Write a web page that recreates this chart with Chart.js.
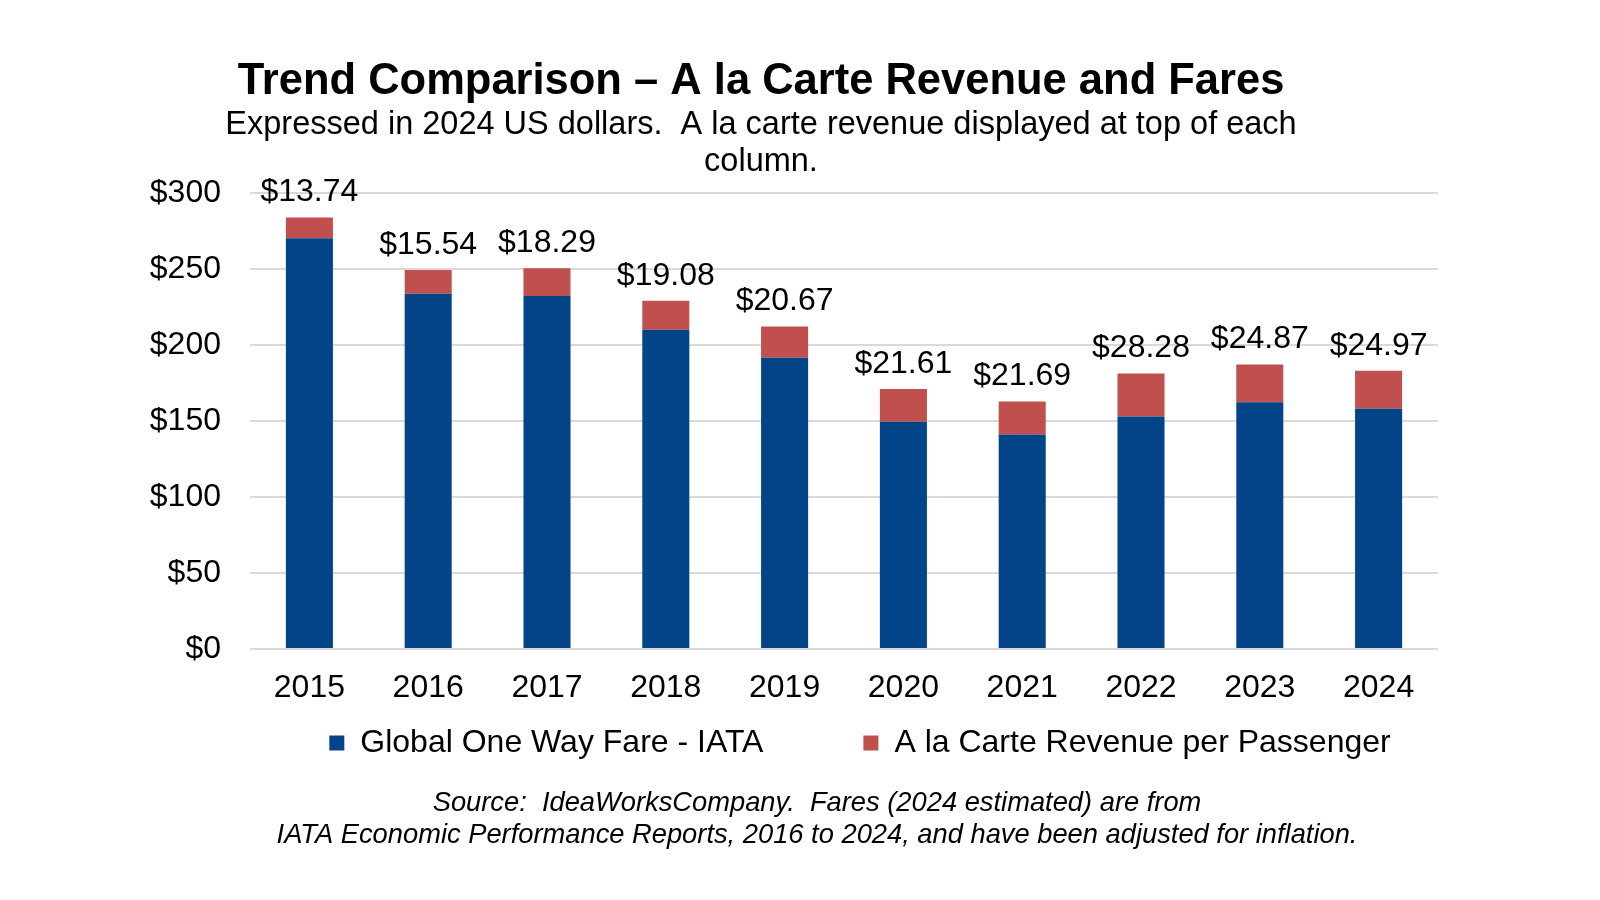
<!DOCTYPE html>
<html>
<head>
<meta charset="utf-8">
<title>Trend Comparison – A la Carte Revenue and Fares</title>
<script src="https://cdn.jsdelivr.net/npm/chart.js@4.4.1/dist/chart.umd.min.js"></script>
<style>
    body { margin: 0; background: #ffffff; }
    #wrap { position: absolute; left: 0; top: 0; width: 1522px; height: 900px; }
</style>
</head>
<body>
<div id="wrap"><canvas id="chartTrend"></canvas></div>
<script>
const years = ['2015', '2016', '2017', '2018', '2019', '2020', '2021', '2022', '2023', '2024'];
const fareIata = [270.5, 234, 232.5, 210.3, 191.8, 149.6, 141.3, 153.2, 162.5, 158.2];
const aLaCarte = [13.74, 15.54, 18.29, 19.08, 20.67, 21.61, 21.69, 28.28, 24.87, 24.97];
const yTicks = [0, 50, 100, 150, 200, 250, 300];

const FONT = "'Liberation Sans', Arial, sans-serif";

// valores de a la carte no topo de cada coluna
const topLabels = {
    id: 'topLabels',
    afterDatasetsDraw(chart) {
        const ctx = chart.ctx;
        const meta = chart.getDatasetMeta(1);
        ctx.save();
        ctx.font = '32px ' + FONT;
        ctx.fillStyle = '#000000';
        ctx.textAlign = 'center';
        ctx.textBaseline = 'middle';
        meta.data.forEach((bar, i) => {
            ctx.fillText('$' + aLaCarte[i].toFixed(2), bar.x, bar.y - 25);
        });
        ctx.restore();
    }
};

// nota de rodapé
const sourceNote = {
    id: 'sourceNote',
    afterDraw(chart) {
        const ctx = chart.ctx;
        ctx.save();
        ctx.font = 'italic 27.3px ' + FONT;
        ctx.fillStyle = '#000000';
        ctx.textAlign = 'center';
        ctx.textBaseline = 'middle';
        ctx.fillText('Source:  IdeaWorksCompany.  Fares (2024 estimated) are from', 817, 803);
        ctx.fillText('IATA Economic Performance Reports, 2016 to 2024, and have been adjusted for inflation.', 817, 835);
        ctx.restore();
    }
};

// empurra a legenda um pouco para a direita
const legendShift = {
    id: 'legendShift',
    afterLayout(chart) {
        chart.legend.left += 16;
        chart.legend.right += 16;
    }
};

function makeChart() {
    const ctx = document.getElementById('chartTrend').getContext('2d');
    new Chart(ctx, {
        type: 'bar',
        data: {
            labels: years,
            datasets: [{
                label: 'Global One Way Fare - IATA',
                data: fareIata,
                backgroundColor: '#024487',
                barPercentage: 0.396,
                categoryPercentage: 1
            }, {
                label: 'A la Carte Revenue per Passenger',
                data: aLaCarte,
                backgroundColor: '#C0504D',
                barPercentage: 0.396,
                categoryPercentage: 1
            }]
        },
        options: {
            responsive: true,
            maintainAspectRatio: false,
            animation: false,
            layout: { padding: { top: 0, left: 84, right: 84, bottom: 131 } },
            scales: {
                x: {
                    stacked: true,
                    grid: { display: false, drawTicks: false },
                    border: { display: false },
                    ticks: { color: '#000000', font: { family: FONT, size: 32 }, padding: 20 },
                    afterFit: (scale) => { scale.height = 58; }
                },
                y: {
                    stacked: true,
                    min: 0,
                    max: 300,
                    afterBuildTicks: (scale) => { scale.ticks = yTicks.map(v => ({ value: v })); },
                    grid: { color: '#d9d9d9', lineWidth: 2, drawTicks: false },
                    border: { display: false },
                    ticks: {
                        color: '#000000',
                        font: { family: FONT, size: 32 },
                        padding: 29,
                        callback: (v) => '$' + v
                    },
                    afterFit: (scale) => { scale.width = 166; }
                }
            },
            plugins: {
                title: {
                    display: true,
                    text: 'Trend Comparison – A la Carte Revenue and Fares',
                    color: '#000000',
                    font: { family: FONT, size: 43.5, weight: 'bold', lineHeight: 1.15 },
                    padding: { top: 57, bottom: 0 }
                },
                subtitle: {
                    display: true,
                    text: ['Expressed in 2024 US dollars.  A la carte revenue displayed at top of each', 'column.'],
                    color: '#000000',
                    font: { family: FONT, size: 32.5, lineHeight: 1.13 },
                    padding: { top: 0, bottom: 13 }
                },
                legend: {
                    position: 'bottom',
                    fullSize: false,
                    labels: {
                        color: '#000000',
                        font: { family: FONT, size: 32 },
                        boxWidth: 15,
                        boxHeight: 15,
                        padding: 20,
                        generateLabels: (chart) => {
                            const items = Chart.defaults.plugins.legend.labels.generateLabels(chart);
                            items[0].text += '         ';
                            return items;
                        }
                    }
                },
                tooltip: { enabled: false }
            }
        },
        plugins: [topLabels, sourceNote, legendShift]
    });
}

window.onload = makeChart;
</script>
</body>
</html>
